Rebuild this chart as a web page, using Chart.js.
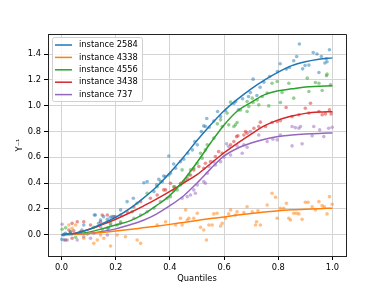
<!DOCTYPE html>
<html>
<head>
<meta charset="utf-8">
<script src="https://cdn.jsdelivr.net/npm/chart.js@4.4.0/dist/chart.umd.min.js"></script>
<style>
  html, body { margin: 0; padding: 0; background: #fff; }
</style>
</head>
<body>
<canvas id="chart" width="384" height="288"></canvas>
<script>
// instances shown in the legend
const names = ['instance 2584', 'instance 4338', 'instance 4556', 'instance 3438', 'instance 737'];
const colors = ['#1f77b4', '#ff7f0e', '#2ca02c', '#d62728', '#9467bd'];

const xTicks = [0, 0.2, 0.4, 0.6, 0.8, 1.0];
const yTicks = [0, 0.2, 0.4, 0.6, 0.8, 1.0, 1.2, 1.4];

// fitted curves, sampled every 0.05
const fitX = [0, 0.05, 0.1, 0.15, 0.2, 0.25, 0.3, 0.35, 0.4, 0.45, 0.5, 0.55, 0.6, 0.65, 0.7, 0.75, 0.8, 0.85, 0.9, 0.95, 1.0];
const blueFit = [0, 0.01, 0.04, 0.085, 0.135, 0.2, 0.28, 0.37, 0.48, 0.6, 0.73, 0.85, 0.96, 1.05, 1.13, 1.2, 1.26, 1.31, 1.34, 1.36, 1.37];
const orangeFit = [0, 0.004, 0.01, 0.018, 0.028, 0.04, 0.053, 0.066, 0.08, 0.095, 0.11, 0.125, 0.138, 0.152, 0.165, 0.176, 0.186, 0.193, 0.198, 0.202, 0.205];
const greenFit = [0, 0.005, 0.02, 0.045, 0.075, 0.105, 0.155, 0.225, 0.305, 0.42, 0.56, 0.71, 0.85, 0.96, 1.025, 1.085, 1.115, 1.13, 1.145, 1.15, 1.155];
const redFit = [0, 0.012, 0.04, 0.078, 0.12, 0.168, 0.22, 0.275, 0.335, 0.4, 0.465, 0.55, 0.635, 0.71, 0.78, 0.845, 0.89, 0.92, 0.94, 0.95, 0.953];
const purpleFit = [0, 0.003, 0.01, 0.025, 0.045, 0.075, 0.11, 0.16, 0.225, 0.3, 0.4, 0.51, 0.61, 0.67, 0.71, 0.74, 0.76, 0.772, 0.78, 0.785, 0.788];

// observed points [quantile, value]
const blueDots = [[0.001,-0.036],[0.007,-0.002],[0.009,-0.041],[0.015,0.011],[0.032,0.011],[0.075,0.036],[0.082,0.075],[0.121,0.153],[0.125,0.153],[0.137,0.088],[0.144,0.114],[0.155,0.14],[0.169,0.119],[0.173,0.05],[0.18,0.135],[0.187,0.14],[0.198,0.14],[0.218,0.192],[0.242,0.256],[0.265,0.282],[0.304,0.403],[0.316,0.411],[0.341,0.334],[0.351,0.386],[0.359,0.43],[0.372,0.411],[0.377,0.455],[0.384,0.45],[0.396,0.61],[0.402,0.476],[0.414,0.548],[0.421,0.515],[0.439,0.566],[0.451,0.585],[0.466,0.631],[0.483,0.657],[0.492,0.722],[0.501,0.696],[0.516,0.799],[0.525,0.843],[0.531,0.838],[0.536,0.9],[0.545,0.833],[0.562,0.88],[0.576,0.954],[0.587,0.915],[0.605,0.962],[0.636,1.016],[0.643,1.032],[0.653,0.967],[0.668,1.053],[0.69,1.071],[0.697,1.102],[0.707,1.205],[0.721,1.078],[0.733,1.143],[0.747,1.182],[0.768,1.226],[0.797,1.265],[0.807,1.324],[0.83,1.283],[0.841,1.296],[0.857,1.348],[0.868,1.381],[0.878,1.477],[0.89,1.285],[0.899,1.311],[0.913,1.314],[0.929,1.412],[0.943,1.4],[0.95,1.257],[0.959,1.381],[0.972,1.33],[0.977,1.363],[0.98,1.34],[0.989,1.433]];
const orangeDots = [[0.009,0.005],[0.027,0.075],[0.039,0.05],[0.052,0.075],[0.082,-0.028],[0.119,-0.067],[0.132,-0.041],[0.144,-0.002],[0.156,-0.028],[0.181,-0.088],[0.205,-0.002],[0.236,-0.016],[0.279,-0.041],[0.292,-0.067],[0.353,0.075],[0.384,0.1],[0.421,0.075],[0.439,0.127],[0.445,0.075],[0.458,0.192],[0.464,0.114],[0.47,0.127],[0.488,0.127],[0.501,0.166],[0.513,0.057],[0.525,0.036],[0.535,-0.041],[0.544,0.075],[0.556,0.075],[0.562,0.161],[0.574,0.166],[0.587,0.067],[0.593,0.088],[0.605,0.127],[0.617,0.161],[0.624,0.192],[0.642,0.153],[0.648,0.178],[0.673,0.171],[0.685,0.217],[0.704,0.178],[0.716,0.075],[0.72,0.1],[0.725,0.186],[0.734,0.075],[0.759,0.23],[0.777,0.321],[0.79,0.29],[0.796,0.127],[0.808,0.205],[0.82,0.205],[0.83,0.243],[0.839,0.127],[0.845,0.114],[0.857,0.166],[0.867,0.166],[0.876,0.161],[0.888,0.119],[0.9,0.251],[0.91,0.251],[0.925,0.217],[0.937,0.192],[0.95,0.256],[0.962,0.225],[0.97,0.217],[0.98,0.161],[0.989,0.295],[0.999,0.236]];
const greenDots = [[0.002,0.042],[0.015,0.054],[0.033,0.023],[0.052,-0.02],[0.07,0.011],[0.095,0.005],[0.119,0.057],[0.15,0.042],[0.169,0.05],[0.181,0.088],[0.205,0.075],[0.218,0.1],[0.261,0.178],[0.279,0.244],[0.316,0.321],[0.353,0.372],[0.365,0.411],[0.396,0.463],[0.402,0.295],[0.414,0.372],[0.427,0.347],[0.439,0.386],[0.445,0.502],[0.458,0.424],[0.47,0.463],[0.476,0.502],[0.488,0.515],[0.501,0.554],[0.513,0.631],[0.519,0.593],[0.531,0.657],[0.538,0.696],[0.562,0.748],[0.575,0.859],[0.587,0.89],[0.593,0.838],[0.611,0.942],[0.617,0.851],[0.624,1.027],[0.636,0.838],[0.642,0.851],[0.648,0.869],[0.661,0.967],[0.685,0.954],[0.685,1.032],[0.691,0.993],[0.704,1.058],[0.707,1.024],[0.722,1.045],[0.728,1.006],[0.741,1.071],[0.759,1.097],[0.765,0.998],[0.777,1.174],[0.796,1.187],[0.808,1.024],[0.814,1.102],[0.839,1.174],[0.857,1.058],[0.907,1.213],[0.913,1.109],[0.937,1.179],[0.95,1.174],[0.962,1.117],[0.978,1.231],[0.98,1.244],[0.993,1.161]];
const redDots = [[0.015,-0.041],[0.027,0.036],[0.039,0.088],[0.039,-0.028],[0.045,0.031],[0.058,0.1],[0.07,0.023],[0.082,0.1],[0.107,0.075],[0.144,0.1],[0.15,0.153],[0.169,0.153],[0.193,0.14],[0.218,0.153],[0.242,0.178],[0.267,0.217],[0.292,0.256],[0.328,0.282],[0.353,0.308],[0.377,0.347],[0.384,0.347],[0.402,0.399],[0.414,0.341],[0.417,0.372],[0.439,0.399],[0.451,0.411],[0.464,0.437],[0.476,0.463],[0.488,0.502],[0.507,0.528],[0.525,0.515],[0.531,0.554],[0.55,0.566],[0.568,0.605],[0.58,0.644],[0.593,0.631],[0.624,0.696],[0.636,0.722],[0.646,0.76],[0.651,0.766],[0.673,0.773],[0.679,0.799],[0.685,0.787],[0.71,0.825],[0.728,0.838],[0.734,0.872],[0.753,0.838],[0.777,0.869],[0.796,0.877],[0.808,0.884],[0.829,0.985],[0.851,0.915],[0.876,0.929],[0.9,0.98],[0.913,0.942],[0.919,1.019],[0.95,0.954],[0.962,0.929],[0.974,0.936],[0.989,0.967],[0.995,0.936]];
const purpleDots = [[0.002,0.081],[0.021,-0.041],[0.033,0.023],[0.058,-0.041],[0.082,-0.016],[0.107,-0.028],[0.119,0.011],[0.144,0.062],[0.169,-0.002],[0.181,0.075],[0.218,0.088],[0.267,0.127],[0.292,0.153],[0.316,0.178],[0.341,0.205],[0.365,0.256],[0.39,0.282],[0.445,0.282],[0.464,0.295],[0.476,0.308],[0.488,0.347],[0.494,0.321],[0.501,0.386],[0.525,0.411],[0.531,0.399],[0.538,0.476],[0.544,0.528],[0.562,0.566],[0.568,0.541],[0.587,0.566],[0.599,0.6],[0.609,0.704],[0.617,0.683],[0.624,0.618],[0.648,0.688],[0.667,0.631],[0.673,0.696],[0.685,0.678],[0.697,0.799],[0.728,0.773],[0.759,0.722],[0.78,0.74],[0.796,0.735],[0.808,0.773],[0.851,0.688],[0.851,0.838],[0.863,0.83],[0.876,0.825],[0.882,0.838],[0.888,0.704],[0.925,0.766],[0.931,0.838],[0.953,0.812],[0.968,0.76],[0.986,0.825],[0.999,0.833]];

const fits = [blueFit, orangeFit, greenFit, redFit, purpleFit];
const dots = [blueDots, orangeDots, greenDots, redDots, purpleDots];

function withAlpha(hex, a) {
  const n = parseInt(hex.slice(1), 16);
  return `rgba(${n >> 16}, ${(n >> 8) & 255}, ${n & 255}, ${a})`;
}

const FONT = 'DejaVu Sans';

const lineSets = fits.map((ys, i) => ({
  label: names[i],
  data: fitX.map((x, j) => ({ x, y: ys[j] })),
  showLine: true,
  borderColor: colors[i],
  borderWidth: 1.5,
  pointRadius: 0,
  cubicInterpolationMode: 'monotone',
  order: 0
}));

const dotSets = dots.map((pts, i) => ({
  label: names[i] + ' points',
  data: pts.map(p => ({ x: p[0], y: p[1] })),
  showLine: false,
  pointRadius: 1.8,
  pointBorderWidth: 0,
  pointBackgroundColor: withAlpha(colors[i], 0.5),
  order: 1
}));

// matplotlib style frame + legend box in the upper left
const frameLegend = {
  id: 'frameLegend',
  afterDraw(chart) {
    const ctx = chart.ctx;
    const a = chart.chartArea;
    ctx.save();
    ctx.strokeStyle = '#222';
    ctx.lineWidth = 1;
    ctx.beginPath();
    ctx.moveTo(a.left, a.top + 0.5);
    ctx.lineTo(a.right + 0.5, a.top + 0.5);
    ctx.lineTo(a.right + 0.5, a.bottom);
    ctx.stroke();

    const bx = a.left + 4, by = a.top + 3, bw = 90, bh = 64;
    ctx.fillStyle = 'rgba(255,255,255,0.8)';
    ctx.strokeStyle = '#d0d0d0';
    ctx.beginPath();
    ctx.roundRect(bx + 0.5, by + 0.5, bw, bh, 2);
    ctx.fill();
    ctx.stroke();

    ctx.font = '8.3px "' + FONT + '"';
    ctx.textBaseline = 'middle';
    ctx.fillStyle = '#000';
    names.forEach((n, i) => {
      const y = by + 8 + i * 12.4;
      ctx.strokeStyle = colors[i];
      ctx.lineWidth = 1.5;
      ctx.beginPath();
      ctx.moveTo(bx + 3, y);
      ctx.lineTo(bx + 20, y);
      ctx.stroke();
      ctx.fillText(n, bx + 27, y);
    });
    ctx.restore();
  }
};

new Chart(document.getElementById('chart'), {
  type: 'scatter',
  data: { datasets: [...lineSets, ...dotSets] },
  options: {
    responsive: false,
    animation: false,
    layout: { padding: { left: 11, top: 34, right: 38, bottom: 4 } },
    plugins: {
      legend: { display: false },
      tooltip: { enabled: false }
    },
    scales: {
      x: {
        type: 'linear',
        min: -0.05,
        max: 1.05,
        afterBuildTicks: s => { s.ticks = xTicks.map(v => ({ value: v })); },
        afterFit: s => { s.height = 28; },
        ticks: {
          callback: v => v.toFixed(1),
          color: '#000',
          font: { family: FONT, size: 8.3 },
          padding: 3,
          maxRotation: 0
        },
        grid: { color: '#d4d4d4', lineWidth: 1, tickColor: '#000', tickLength: 4 },
        border: { color: '#222', width: 1 },
        title: {
          display: true,
          text: 'Quantiles',
          color: '#000',
          font: { family: FONT, size: 8.3 },
          padding: { top: 2, bottom: 0 }
        }
      },
      y: {
        type: 'linear',
        min: -0.165,
        max: 1.555,
        afterBuildTicks: s => { s.ticks = yTicks.map(v => ({ value: v })); },
        afterFit: s => { s.width = 37; },
        ticks: {
          callback: v => v.toFixed(1),
          color: '#000',
          font: { family: FONT, size: 8.3 },
          padding: 3
        },
        grid: { color: '#d4d4d4', lineWidth: 1, tickColor: '#000', tickLength: 4 },
        border: { color: '#222', width: 1 },
        title: {
          display: true,
          text: 'Y⁻¹',
          color: '#000',
          font: { family: FONT, size: 8.3 },
          padding: { top: 4, bottom: 0 }
        }
      }
    }
  },
  plugins: [frameLegend]
});
</script>
</body>
</html>
